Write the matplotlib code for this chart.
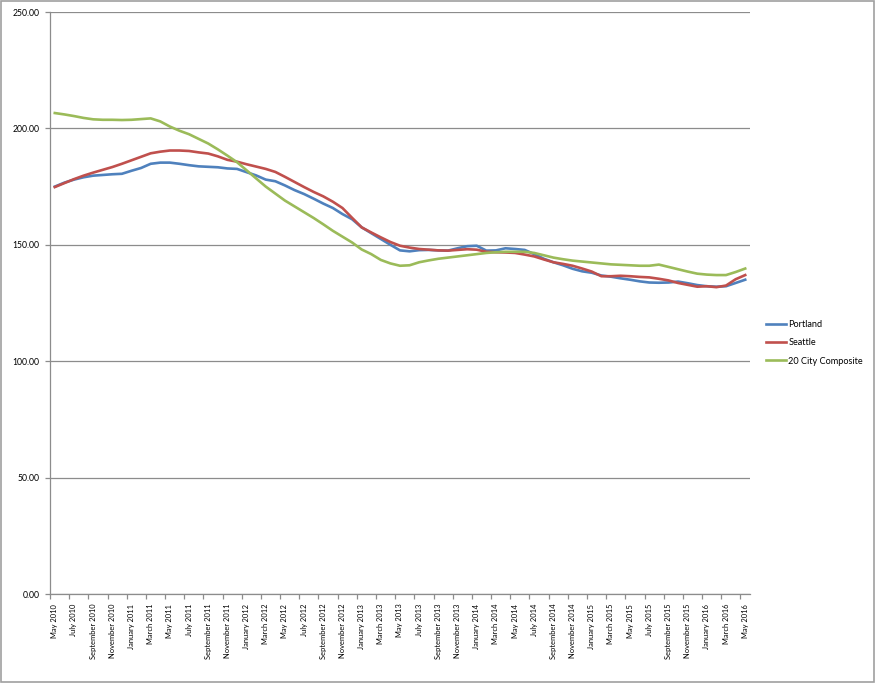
import matplotlib
matplotlib.use("Agg")
import matplotlib.pyplot as plt
from matplotlib.patches import Rectangle
from matplotlib.ticker import FixedLocator, FormatStrFormatter

months = ["May 2010", "July 2010", "September 2010", "November 2010", "January 2011", "March 2011",
          "May 2011", "July 2011", "September 2011", "November 2011", "January 2012", "March 2012",
          "May 2012", "July 2012", "September 2012", "November 2012", "January 2013", "March 2013",
          "May 2013", "July 2013", "September 2013", "November 2013", "January 2014", "March 2014",
          "May 2014", "July 2014", "September 2014", "November 2014", "January 2015", "March 2015",
          "May 2015", "July 2015", "September 2015", "November 2015", "January 2016", "March 2016",
          "May 2016"]

portland = [175.0, 176.7, 178.0, 179.0, 179.7, 180.0, 180.3, 180.5, 181.8, 183.0,
            184.8, 185.3, 185.3, 184.8, 184.2, 183.7, 183.5, 183.3, 182.8, 182.6,
            181.2, 179.8, 178.0, 177.3, 175.5, 173.5, 171.8, 169.8, 167.7, 165.8,
            163.2, 161.0, 157.5, 155.0, 152.5, 150.0, 147.6, 147.2, 147.7, 147.8,
            147.6, 147.5, 148.5, 149.4, 149.6, 147.5, 147.6, 148.5, 148.2, 147.8,
            146.0, 144.0, 142.5, 141.2, 139.7, 138.6, 138.0, 136.8, 136.3, 135.6,
            135.0, 134.3, 133.8, 133.7, 133.8, 134.2, 133.5, 132.7, 132.2, 132.0,
            132.2, 133.6, 135.0]

seattle = [174.8, 176.5, 178.2, 179.7, 181.0, 182.2, 183.4, 184.8, 186.3, 187.8,
           189.3, 190.0, 190.5, 190.5, 190.3, 189.7, 189.2, 188.0, 186.5, 185.7,
           184.6, 183.6, 182.6, 181.3, 179.2, 177.0, 174.8, 172.7, 170.8, 168.5,
           165.8, 161.6, 157.5, 155.3, 153.2, 151.2, 149.6, 148.8, 148.2, 147.9,
           147.6, 147.5, 147.8, 148.1, 147.9, 147.0, 146.8, 146.7, 146.5, 145.8,
           145.0, 143.7, 142.5, 141.8, 141.0, 139.8, 138.5, 136.5, 136.5, 136.7,
           136.5, 136.2, 136.0, 135.4, 134.7, 133.6, 132.8, 132.0, 132.2, 131.8,
           132.5, 135.2, 137.0]

composite = [206.6, 206.0, 205.3, 204.5, 203.9, 203.7, 203.7, 203.6, 203.7, 204.0,
             204.3, 203.0, 200.8, 199.0, 197.5, 195.5, 193.5, 191.0, 188.3, 185.5,
             182.0, 178.5, 175.0, 172.0, 169.0, 166.5, 164.0, 161.5, 158.8, 156.0,
             153.5, 151.0, 148.0, 146.0, 143.5, 142.0, 141.0, 141.2, 142.5, 143.3,
             144.0, 144.5, 145.0, 145.5, 146.0, 146.5, 146.8, 147.0, 147.0, 147.0,
             146.5, 145.5, 144.5, 143.8, 143.2, 142.8, 142.4, 142.0, 141.6, 141.4,
             141.2, 141.0, 141.0, 141.5, 140.5, 139.5, 138.5, 137.6, 137.2, 137.0,
             137.0, 138.3, 139.8]

series_names = ["Portland", "Seattle", "20 City Composite"]
series_colors = ["#4F81BD", "#C0504D", "#9BBB59"]

plt.rcParams['font.family'] = ['Lato', 'Liberation Sans', 'DejaVu Sans']

fig = plt.figure(figsize=(8.76, 6.83), dpi=100)
ax = fig.add_axes([50/876, 1-594/683, 700/876, 582/683])

x = list(range(len(portland)))
for data, name, col in zip([portland, seattle, composite], series_names, series_colors):
    ax.plot(x, data, color=col, lw=1.9, label=name, solid_joinstyle='round')

ax.set_xlim(-0.5, len(portland) - 0.5)
ax.set_ylim(0, 250)
ax.set_yticks([0, 50, 100, 150, 200, 250])
ax.yaxis.set_major_formatter(FormatStrFormatter('%.2f'))
ax.grid(axis='y', color='#8c8c8c', lw=0.9)
ax.set_axisbelow(True)

label_pos = list(range(0, len(portland), 2))
ax.set_xticks(label_pos)
ax.set_xticklabels(months, rotation=90, fontsize=5.4)
ax.tick_params(axis='x', which='major', length=0, pad=7)
ax.xaxis.set_minor_locator(FixedLocator([p - 0.5 for p in label_pos]))
ax.tick_params(axis='x', which='minor', length=3.5, color='#8c8c8c', width=0.9)
ax.tick_params(axis='y', length=3.5, color='#8c8c8c', width=0.9, labelsize=6.2, pad=4)

for s in ['top', 'right']:
    ax.spines[s].set_visible(False)
for s in ['left', 'bottom']:
    ax.spines[s].set_color('#8c8c8c')
    ax.spines[s].set_linewidth(0.9)

fig.legend(loc='upper left', bbox_to_anchor=(758/876, 1-312/683), frameon=False,
           fontsize=6.6, handlelength=2.2, handletextpad=0.2, labelspacing=1.0)

fig.patches.append(Rectangle((0.001, 0.001), 0.997, 0.997, transform=fig.transFigure,
                             fill=False, edgecolor='#a0a0a0', lw=1.2))

fig.savefig("out.png", dpi=100)
